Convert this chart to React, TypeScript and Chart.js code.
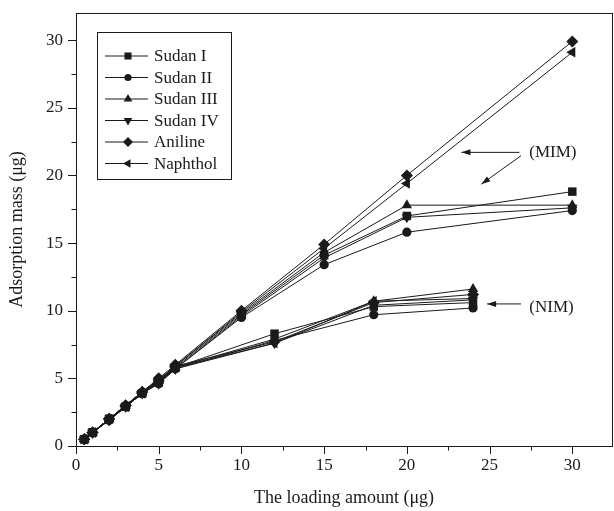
import { useEffect, useRef } from 'react';
import { Chart, registerables } from 'chart.js';
import { drawPoint } from 'chart.js/helpers';
Chart.register(...registerables);

const seriesNames = ['Sudan I', 'Sudan II', 'Sudan III', 'Sudan IV', 'Aniline', 'Naphthol'];

const mimLoading = [0.5, 1, 2, 3, 4, 5, 6, 10, 15, 20, 30];
const nimLoading = [0.5, 1, 2, 3, 4, 5, 6, 12, 18, 24];

const mimSudanI = [0.5, 1.0, 2.0, 2.9, 3.9, 4.8, 5.8, 9.7, 14.1, 17.0, 18.8];
const mimSudanII = [0.5, 1.0, 1.9, 2.9, 3.9, 4.7, 5.7, 9.5, 13.4, 15.8, 17.4];
const mimSudanIII = [0.5, 1.0, 2.0, 3.0, 4.0, 4.9, 5.9, 9.8, 14.3, 17.8, 17.8];
const mimSudanIV = [0.5, 1.0, 1.9, 2.9, 3.9, 4.7, 5.7, 9.6, 13.9, 16.9, 17.6];
const mimAniline = [0.5, 1.0, 2.0, 3.0, 4.0, 5.0, 6.0, 10.0, 14.9, 20.0, 29.9];
const mimNaphthol = [0.5, 1.0, 2.0, 2.9, 3.9, 4.9, 5.9, 9.9, 14.6, 19.4, 29.1];

const nimSudanI = [0.5, 1.0, 2.0, 2.9, 3.9, 4.7, 5.8, 8.3, 10.3, 10.6];
const nimSudanII = [0.5, 1.0, 1.9, 2.9, 3.9, 4.6, 5.7, 7.8, 9.7, 10.2];
const nimSudanIII = [0.5, 1.0, 2.0, 3.0, 4.0, 4.8, 5.8, 7.9, 10.7, 11.6];
const nimSudanIV = [0.5, 1.0, 1.9, 2.9, 3.9, 4.6, 5.7, 7.6, 10.4, 10.8];
const nimAniline = [0.5, 1.0, 2.0, 3.0, 4.0, 4.8, 5.9, 7.7, 10.6, 11.2];
const nimNaphthol = [0.5, 1.0, 2.0, 2.9, 3.9, 4.7, 5.8, 7.6, 10.7, 10.9];

const mimSeries = [mimSudanI, mimSudanII, mimSudanIII, mimSudanIV, mimAniline, mimNaphthol];
const nimSeries = [nimSudanI, nimSudanII, nimSudanIII, nimSudanIV, nimAniline, nimNaphthol];

const xTickValues = [0, 2.5, 5, 7.5, 10, 12.5, 15, 17.5, 20, 22.5, 25, 27.5, 30];
const yTickValues = [0, 2.5, 5, 7.5, 10, 12.5, 15, 17.5, 20, 22.5, 25, 27.5, 30];
const xTickLabels = ['0', '5', '10', '15', '20', '25', '30'];
const yTickLabels = ['0', '5', '10', '15', '20', '25', '30'];

const markers = [
  { style: 'rect', rotation: 0, radius: 6 },
  { style: 'circle', rotation: 0, radius: 4.6 },
  { style: 'triangle', rotation: 0, radius: 6 },
  { style: 'triangle', rotation: 180, radius: 6 },
  { style: 'rectRot', rotation: 0, radius: 6 },
  { style: 'triangle', rotation: 270, radius: 6 },
];

const FONT = '"Liberation Serif", "Times New Roman", serif';
const INK = '#1a1a1a';

const frameAndExtras = {
  id: 'frameAndExtras',
  afterLayout(chart: any) {
    const xs = chart.scales.x;
    const target = chart.width - 2;
    if (xs && Math.abs(xs.right - target) > 0.5) {
      xs.right = target;
      xs.width = xs.right - xs.left;
      chart.chartArea.right = target;
      chart.chartArea.width = target - chart.chartArea.left;
      xs.configure();
    }
  },
  afterDraw(chart: any) {
    const { ctx, chartArea: a, scales } = chart;
    const xs = scales.x;
    const ys = scales.y;
    ctx.save();
    ctx.strokeStyle = INK;
    ctx.lineWidth = 1;
    ctx.strokeRect(Math.round(a.left) + 0.5, Math.round(a.top) + 0.5, Math.round(a.right - a.left), Math.round(a.bottom - a.top));
    ctx.beginPath();
    xs.ticks.forEach((t: any) => {
      const v = t.value;
      const major = Math.abs(v / 5 - Math.round(v / 5)) < 1e-6;
      const px = Math.round(xs.getPixelForValue(v)) + 0.5;
      ctx.moveTo(px, a.bottom);
      ctx.lineTo(px, a.bottom + (major ? 8 : 4.5));
    });
    ys.ticks.forEach((t: any) => {
      const v = t.value;
      const major = Math.abs(v / 5 - Math.round(v / 5)) < 1e-6;
      const py = Math.round(ys.getPixelForValue(v)) + 0.5;
      ctx.moveTo(a.left, py);
      ctx.lineTo(a.left - (major ? 8 : 4.5), py);
    });
    ctx.stroke();

    // legend
    const bx = a.left + 21;
    const by = a.top + 19;
    const bw = 134;
    const bh = 147;
    ctx.lineWidth = 1;
    ctx.strokeRect(Math.round(bx) + 0.5, Math.round(by) + 0.5, bw, bh);
    ctx.font = '17px ' + FONT;
    ctx.textBaseline = 'middle';
    ctx.textAlign = 'left';
    seriesNames.forEach((name, i) => {
      const ry = by + 24 + i * 21.5;
      ctx.strokeStyle = INK;
      ctx.beginPath();
      ctx.moveTo(bx + 8, ry);
      ctx.lineTo(bx + 51, ry);
      ctx.stroke();
      ctx.fillStyle = INK;
      const m = markers[i];
      drawPoint(ctx, { pointStyle: m.style, rotation: m.rotation, radius: m.radius - 1, borderWidth: 0 }, bx + 31, ry);
      ctx.fillStyle = INK;
      ctx.fillText(name, bx + 57, ry + 1);
    });

    // annotations
    const arrow = (x0: number, y0: number, x1: number, y1: number) => {
      const p0x = xs.getPixelForValue(x0), p0y = ys.getPixelForValue(y0);
      const p1x = xs.getPixelForValue(x1), p1y = ys.getPixelForValue(y1);
      ctx.strokeStyle = INK;
      ctx.fillStyle = INK;
      ctx.beginPath();
      ctx.moveTo(p0x, p0y);
      ctx.lineTo(p1x, p1y);
      ctx.stroke();
      const ang = Math.atan2(p1y - p0y, p1x - p0x);
      const L = 9, W = 3;
      ctx.beginPath();
      ctx.moveTo(p1x, p1y);
      ctx.lineTo(p1x - L * Math.cos(ang) + W * Math.sin(ang), p1y - L * Math.sin(ang) - W * Math.cos(ang));
      ctx.lineTo(p1x - L * Math.cos(ang) - W * Math.sin(ang), p1y - L * Math.sin(ang) + W * Math.cos(ang));
      ctx.closePath();
      ctx.fill();
    };
    ctx.font = '17px ' + FONT;
    ctx.fillStyle = INK;
    ctx.textBaseline = 'middle';
    ctx.fillText('(MIM)', xs.getPixelForValue(27.4), ys.getPixelForValue(21.7));
    arrow(26.8, 21.7, 23.3, 21.7);
    arrow(26.9, 21.45, 24.5, 19.35);
    ctx.fillText('(NIM)', xs.getPixelForValue(27.4), ys.getPixelForValue(10.25));
    arrow(26.9, 10.5, 24.85, 10.5);
    ctx.restore();
  },
};

function buildDatasets() {
  const ds: any[] = [];
  seriesNames.forEach((name, i) => {
    const m = markers[i];
    const common = {
      borderColor: INK,
      backgroundColor: INK,
      pointBackgroundColor: INK,
      pointBorderColor: INK,
      borderWidth: 1,
      pointBorderWidth: 0,
      pointStyle: m.style,
      rotation: m.rotation,
      pointRadius: m.radius,
      showLine: true,
      tension: 0,
    };
    ds.push({ ...common, label: name + ' (MIM)', data: mimLoading.map((x, k) => ({ x, y: mimSeries[i][k] })) });
    ds.push({ ...common, label: name + ' (NIM)', data: nimLoading.map((x, k) => ({ x, y: nimSeries[i][k] })) });
  });
  return ds;
}

export default function App() {
  const ref = useRef<HTMLCanvasElement | null>(null);
  useEffect(() => {
    if (!ref.current) return;
    const chart = new Chart(ref.current, {
      type: 'scatter',
      data: { datasets: buildDatasets() },
      options: {
        animation: false,
        responsive: false,
        maintainAspectRatio: false,
        layout: { padding: { top: 13, right: 2, left: 0, bottom: 0 } },
        plugins: { legend: { display: false }, tooltip: { enabled: false } },
        scales: {
          x: {
            type: 'linear',
            min: 0,
            max: 32.4,
            afterBuildTicks: (s: any) => { s.ticks = xTickValues.map((value) => ({ value })); },
            afterFit: (s: any) => { s.height = 65; s.paddingLeft = 0; s.paddingRight = 0; },
            border: { display: false },
            grid: { display: false, drawTicks: false },
            ticks: {
              autoSkip: false,
              maxRotation: 0,
              padding: 9,
              color: INK,
              font: { family: FONT, size: 17 },
              callback: (v: any) => {
                const s = String(v);
                return xTickLabels.includes(s) ? s : '';
              },
            },
            title: {
              display: true,
              text: 'The loading amount (μg)',
              color: INK,
              font: { family: FONT, size: 18 },
              padding: { top: 0, bottom: 2 },
            },
          },
          y: {
            type: 'linear',
            min: 0,
            max: 32,
            afterBuildTicks: (s: any) => { s.ticks = yTickValues.map((value) => ({ value })); },
            afterFit: (s: any) => { s.width = 76; s.paddingTop = 0; s.paddingBottom = 0; },
            border: { display: false },
            grid: { display: false, drawTicks: false },
            ticks: {
              autoSkip: false,
              padding: 13,
              color: INK,
              font: { family: FONT, size: 17 },
              callback: (v: any) => {
                const s = String(v);
                return yTickLabels.includes(s) ? s : '';
              },
            },
            title: {
              display: true,
              text: 'Adsorption mass (μg)',
              color: INK,
              font: { family: FONT, size: 18 },
              padding: { top: 6, bottom: 0 },
            },
          },
        },
      },
      plugins: [frameAndExtras],
    } as any);
    return () => chart.destroy();
  }, []);
  return (
    <div style={{ position: 'fixed', left: 0, top: 0, width: 614, height: 511, background: '#fff' }}>
      <canvas ref={ref} width={614} height={511} style={{ width: 614, height: 511 }} />
    </div>
  );
}
